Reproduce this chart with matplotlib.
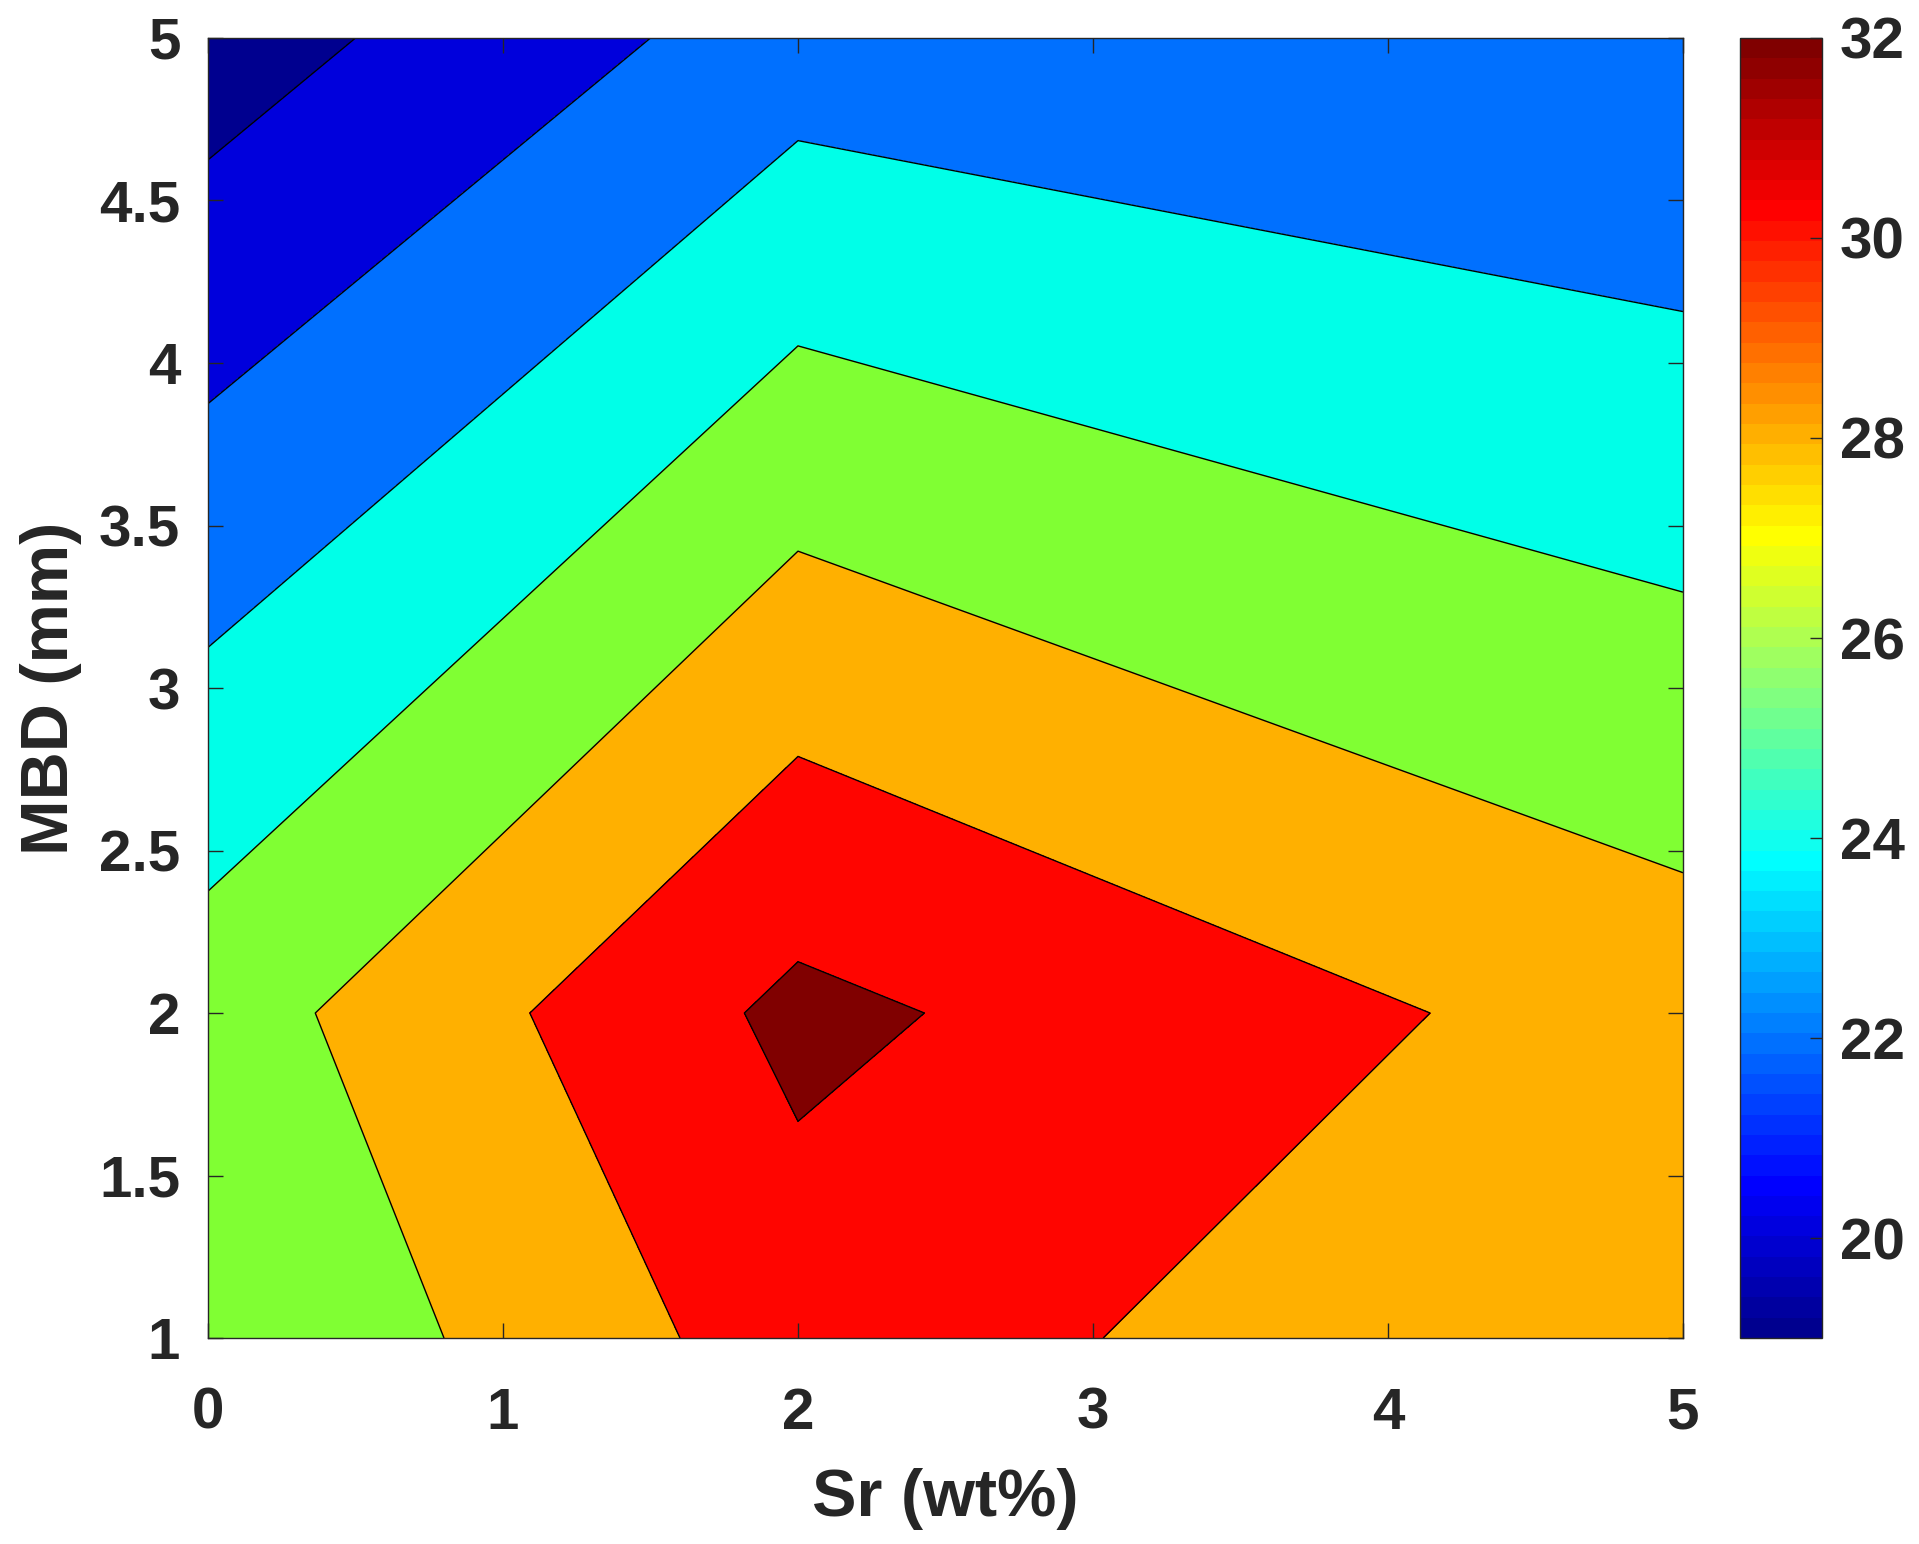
import matplotlib.pyplot as plt
import matplotlib.colors as mcolors
import matplotlib.cm as cm
import numpy as np

# grid of measured points
sr = [0, 2, 5]          # Sr (wt%)
mbd = [1, 2, 5]         # MBD (mm)
# values at (mbd row, sr column)
z_row_mbd1 = [26.0, 31.0, 28.1]
z_row_mbd2 = [27.0, 32.5, 29.0]
z_row_mbd5 = [19.0, 23.0, 22.05]

levels = [18.5, 20, 22, 24, 26, 28, 30, 32, 33]
line_levels = [20, 22, 24, 26, 28, 30, 32]
fill_colors = ["#00008F", "#0000DC", "#0070FF", "#00FFE8", "#80FF33",
               "#FFB000", "#FF0500", "#800000"]
cbar_ticks = [20, 22, 24, 26, 28, 30, 32]
clim = (19, 32)


def matlab_jet(m=64):
    n = int(np.ceil(m / 4))
    u = np.concatenate([np.arange(1, n + 1) / n, np.ones(n - 1), np.arange(n, 0, -1) / n])
    g = int(np.ceil(n / 2)) - (m % 4 == 1) + np.arange(1, len(u) + 1)
    r = g + n
    b = g - n
    J = np.zeros((m, 3))
    for col, idx in ((0, r), (1, g), (2, b)):
        ok = (idx >= 1) & (idx <= m)
        J[idx[ok] - 1, col] = u[ok]
    return mcolors.ListedColormap(J)


plt.rcParams["font.family"] = ["Liberation Sans", "DejaVu Sans"]
plt.rcParams["font.weight"] = "bold"

X, Y = np.meshgrid(sr, mbd)
Z = np.array([z_row_mbd1, z_row_mbd2, z_row_mbd5])

fig = plt.figure(figsize=(19.19, 15.44), dpi=100)
ax = fig.add_axes([0.1084, 0.1334, 0.7686, 0.842])
cax = fig.add_axes([0.9067, 0.1334, 0.0427, 0.842])

ax.contourf(X, Y, Z, levels=levels, colors=fill_colors)
ax.contour(X, Y, Z, levels=line_levels, colors="k", linewidths=1.0)

ax.set_xlim(0, 5)
ax.set_ylim(1, 5)
ax.set_xticks([0, 1, 2, 3, 4, 5])
ax.set_yticks([1, 1.5, 2, 2.5, 3, 3.5, 4, 4.5, 5])
ax.set_yticklabels(["1", "1.5", "2", "2.5", "3", "3.5", "4", "4.5", "5"])
dark = "#262626"
ax.tick_params(axis="both", direction="in", top=True, right=True, length=11,
               width=1.0, labelsize=42, colors=dark)
ax.tick_params(axis="x", pad=35)
ax.tick_params(axis="y", pad=20)
for s in ax.spines.values():
    s.set_color(dark)
    s.set_linewidth(1.0)
ax.set_xlabel("Sr (wt%)", fontsize=48, fontweight="bold", color=dark, labelpad=20)
ax.set_ylabel("MBD (mm)", fontsize=48, fontweight="bold", color=dark, labelpad=12)

sm = cm.ScalarMappable(norm=mcolors.Normalize(*clim), cmap=matlab_jet(64))
cb = fig.colorbar(sm, cax=cax)
cb.set_ticks(cbar_ticks)
cb.ax.tick_params(direction="in", length=9, width=1.0, labelsize=42, colors=dark, pad=13)
cb.outline.set_edgecolor(dark)
cb.outline.set_linewidth(1.0)

plt.savefig("out.png", dpi=100)
plt.close()
